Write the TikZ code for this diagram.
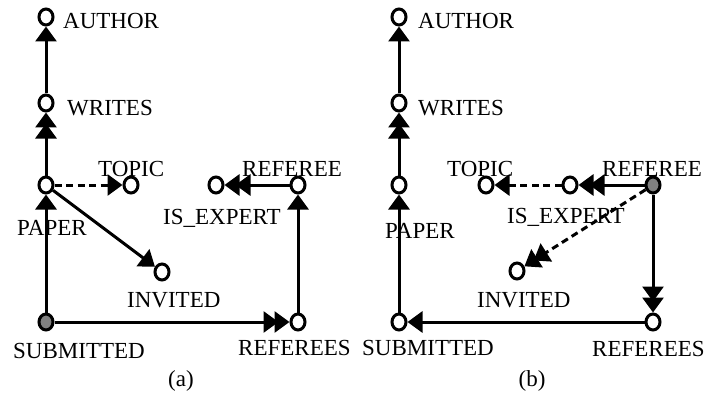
\documentclass[tikz,border=0pt]{standalone}
\usepackage{fontspec}
\setmainfont{Liberation Serif}
\usetikzlibrary{arrows.meta,shapes.geometric}

\begin{document}
\begin{tikzpicture}[x=1pt,y=-1pt,
  vtx/.style={ellipse,draw,line width=3pt,fill=white,
    minimum width=14pt,minimum height=16pt,inner sep=0pt},
  seed/.style={vtx,fill=black!50},
  lbl/.style={anchor=base west,inner sep=0pt,font=\fontsize{23}{23}\selectfont},
  subcap/.style={anchor=base,inner sep=0pt,font=\fontsize{23}{23}\selectfont},
  link/.style={line width=3pt},
  brk/.style={link,dash pattern=on 7pt off 4.5pt},
  one/.style={-{Triangle[length=15pt,width=21pt]}},
  two/.style={-{Triangle[length=15pt,width=21pt,sep=-4pt]Triangle[length=15pt,width=21pt]}}
]
\useasboundingbox (0,0) rectangle (705,396);

% ---------- (a) ----------
\node[vtx]  (aau) at (46,17)   {};
\node[vtx]  (awr) at (46,103)  {};
\node[vtx]  (apa) at (46,185)  {};
\node[vtx]  (ato) at (131,185) {};
\node[vtx]  (aie) at (216,185) {};
\node[vtx]  (arf) at (298,185) {};
\node[vtx]  (ain) at (162,272) {};
\node[seed] (asu) at (46,322)  {};
\node[vtx]  (ars) at (298,322) {};

\draw[link,one] (awr) -- (aau);
\draw[link,two] (apa) -- (awr);
\draw[brk,one]  (apa) -- (ato);
\draw[link,two] (arf) -- (aie);
\draw[link,one] (apa) -- (ain);
\draw[link,one] (asu) -- (apa);
\draw[link,two] (asu) -- (ars);
\draw[link,one] (ars) -- (arf);

\node[lbl] (aaut) at (63,29)   {AUTHOR};
\node[lbl] (awrt) at (67,115)  {WRITES};
\node[lbl] (atot) at (98,176)  {TOPIC};
\node[lbl] (arft) at (242,176) {REFEREE};
\node[lbl] (apat) at (17,235)  {PAPER};
\node[lbl] (aiet) at (163,224) {IS\_EXPERT};
\node[lbl] (aint) at (127,307) {INVITED};
\node[lbl] (asut) at (13,358)  {SUBMITTED};
\node[lbl] (arst) at (238,355) {REFEREES};
\node[subcap] (acap) at (181,386) {(a)};

% ---------- (b) ----------
\node[vtx]  (bau) at (399,17)  {};
\node[vtx]  (bwr) at (399,103) {};
\node[vtx]  (bpa) at (399,185) {};
\node[vtx]  (bto) at (486,185) {};
\node[vtx]  (bie) at (570,185) {};
\node[seed] (brf) at (653,185) {};
\node[vtx]  (bin) at (517,271) {};
\node[vtx]  (bsu) at (399,322) {};
\node[vtx]  (brs) at (653,322) {};

\draw[link,one] (bwr) -- (bau);
\draw[link,two] (bpa) -- (bwr);
\draw[brk,one]  (bie) -- (bto);
\draw[link,two] (brf) -- (bie);
\draw[brk,two]  (brf) -- (bin);
\draw[link,two] (brf) -- (brs);
\draw[link,one] (brs) -- (bsu);
\draw[link,one] (bsu) -- (bpa);

\node[lbl] (baut) at (418,29)  {AUTHOR};
\node[lbl] (bwrt) at (418,115) {WRITES};
\node[lbl] (btot) at (447,176) {TOPIC};
\node[lbl] (brft) at (602,176) {REFEREE};
\node[lbl] (bpat) at (385,238) {PAPER};
\node[lbl] (biet) at (507,223) {IS\_EXPERT};
\node[lbl] (bint) at (477,307) {INVITED};
\node[lbl] (bsut) at (362,355) {SUBMITTED};
\node[lbl] (brst) at (592,356) {REFEREES};
\node[subcap] (bcap) at (532,386) {(b)};
\end{tikzpicture}
\end{document}
